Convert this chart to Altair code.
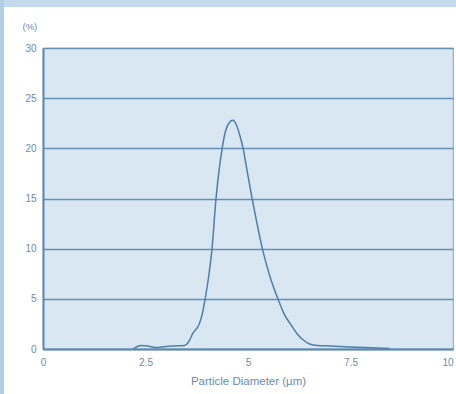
import altair as alt
import pandas as pd

diameter = [2.2, 2.3, 2.4, 2.55, 2.75, 3.0, 3.2, 3.45, 3.55, 3.66, 3.8, 3.88, 3.95, 4.05,
            4.12, 4.22, 4.3, 4.37, 4.45, 4.55, 4.63, 4.72, 4.8, 4.88, 4.99, 5.1, 5.22,
            5.35, 5.53, 5.73, 5.88, 6.05, 6.2, 6.35, 6.5, 6.7, 7.0, 7.5, 8.0, 8.45]
percent = [0.0, 0.25, 0.35, 0.3, 0.15, 0.25, 0.3, 0.35, 0.7, 1.6, 2.4, 3.4, 4.9, 7.5,
           9.9, 15.0, 18.0, 20.0, 21.7, 22.6, 22.8, 22.3, 21.3, 20.0, 17.5, 15.0, 12.5,
           10.0, 7.3, 5.0, 3.5, 2.4, 1.5, 0.9, 0.5, 0.35, 0.3, 0.2, 0.12, 0.05]
x_ticks = [0, 2.5, 5, 7.5, 10]
y_ticks = [0, 5, 10, 15, 20, 25, 30]

df = pd.DataFrame({"d": diameter, "p": percent})

label_color = "#6a8bae"
font = "Liberation Sans"

line = alt.Chart(df).mark_line(color="#4f7fa6", strokeWidth=1.5, interpolate="monotone").encode(
    x=alt.X("d:Q", scale=alt.Scale(domain=[0, 10], nice=False),
            axis=alt.Axis(values=x_ticks, format=".1~f", title="Particle Diameter (µm)", grid=False,
                          ticks=False, labelPadding=8, labelColor=label_color,
                          labelFontSize=10, labelFont=font, titleFont=font,
                          titleFontSize=11.5, titleFontWeight="normal", titleColor=label_color,
                          titlePadding=8, domainColor="#5f88ad", domainWidth=2,
                          labelFlush=False,
                          labelAlign={"condition": {"test": "datum.value == 10", "value": "right"},
                                      "value": "center"})),
    y=alt.Y("p:Q", scale=alt.Scale(domain=[0, 30], nice=False),
            axis=alt.Axis(values=y_ticks, title="(%)", grid=True, gridColor="#6590b5",
                          gridWidth=1.6, ticks=False, labelPadding=7, labelColor=label_color,
                          labelFontSize=10, labelFont=font, titleFont=font, titleFontSize=9.5,
                          titleFontWeight="normal", titleColor=label_color, titleAngle=0,
                          titleAlign="left", titleBaseline="middle", titleX=-21, titleY=-22,
                          domainColor="#5f88ad", domainWidth=2)),
)

top_strip = alt.Chart(df).mark_rect(color="#c4d9ea", clip=False).encode(
    x=alt.value(-43), x2=alt.value(413), y=alt.value(-48), y2=alt.value(-41)
)
left_strip = alt.Chart(df).mark_rect(color="#b3cde4", clip=False).encode(
    x=alt.value(-43), x2=alt.value(-39), y=alt.value(-48), y2=alt.value(346)
)

chart = alt.layer(top_strip, left_strip, line).properties(
    width=410, height=301,
    padding={"left": 43, "top": 48, "right": 3, "bottom": 45},
    autosize=alt.AutoSizeParams(type="none"),
    background="white",
).configure_view(fill="#d9e7f3", stroke="#8eaecb", strokeWidth=1.2)

chart.save("out.html", embed_options={"renderer": "svg", "actions": False})
